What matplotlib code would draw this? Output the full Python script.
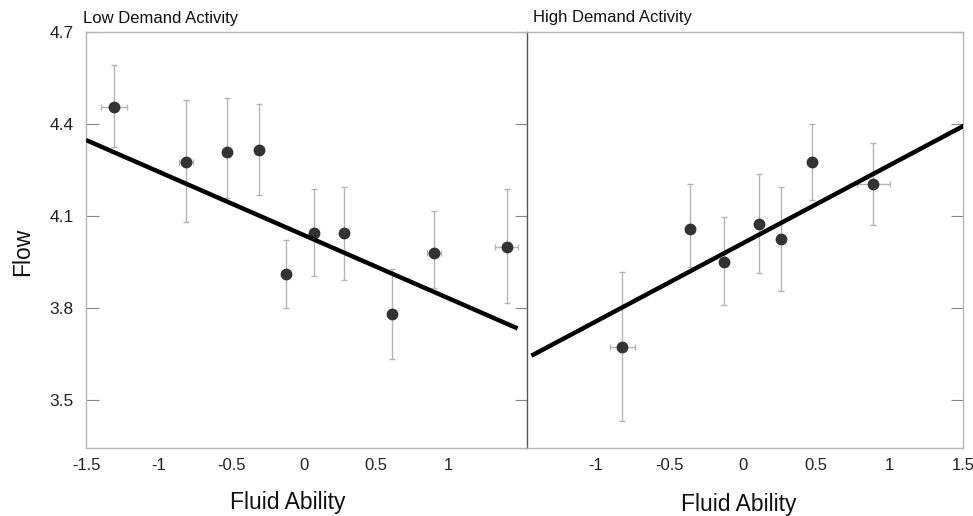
#!/usr/bin/env python3
"""Flow vs fluid ability, low and high demand activity panels"""
import numpy as np
import matplotlib
matplotlib.use('Agg')
import matplotlib.pyplot as plt

plt.rcParams['font.family'] = ['Liberation Sans', 'DejaVu Sans']

# low demand activity: binned means with error bars
low_x = [-1.31, -0.81, -0.53, -0.31, -0.12, 0.07, 0.28, 0.61, 0.90, 1.40]
low_y = [4.454, 4.277, 4.310, 4.316, 3.910, 4.046, 4.046, 3.780, 3.978, 4.000]
low_ytop = [4.592, 4.478, 4.484, 4.465, 4.022, 4.187, 4.196, 3.927, 4.116, 4.187]
low_ybot = [4.326, 4.080, 4.158, 4.170, 3.799, 3.905, 3.891, 3.634, 3.864, 3.815]
low_xerr = [0.09, 0.046, 0.0, 0.0, 0.0, 0.0, 0.0, 0.0, 0.05, 0.08]
low_fit = (4.038, -0.2065)     # intercept, slope
low_fit_range = (-1.5, 1.475)

# high demand activity
high_x = [-0.82, -0.36, -0.13, 0.11, 0.26, 0.47, 0.89]
high_y = [3.674, 4.058, 3.951, 4.073, 4.025, 4.275, 4.205]
high_ytop = [3.918, 4.203, 4.098, 4.236, 4.193, 4.400, 4.339]
high_ybot = [3.432, 3.935, 3.810, 3.913, 3.857, 4.152, 4.071]
high_xerr = [0.086, 0.035, 0.0, 0.0, 0.0, 0.0, 0.11]
high_fit = (4.011, 0.2546)
high_fit_range = (-1.44, 1.525)

y_ticks = [3.5, 3.8, 4.1, 4.4, 4.7]
low_xticks = [-1.5, -1, -0.5, 0, 0.5, 1]
high_xticks = [-1, -0.5, 0, 0.5, 1, 1.5]

W, H = 973, 516
fig = plt.figure(figsize=(W / 100, H / 100), dpi=100)

def px(x0, y0, x1, y1):
    return [x0 / W, 1 - y1 / H, (x1 - x0) / W, (y1 - y0) / H]

ax1 = fig.add_axes(px(86, 32, 527, 448))
ax2 = fig.add_axes(px(527, 32, 963, 448))

def draw_panel(ax, x, y, ytop, ybot, xerr, fit, fit_range, xlim, xticks):
    x = np.array(x)
    y = np.array(y)
    yerr = [y - np.array(ybot), np.array(ytop) - y]
    ax.errorbar(x, y, yerr=yerr, xerr=xerr, fmt='none', ecolor='#b5b5b5',
                elinewidth=1.0, capsize=2.2, capthick=1.0, zorder=2)
    ax.plot(x, y, 'o', color='#333333', markersize=7.5, zorder=3)
    fx = np.array(fit_range)
    ax.plot(fx, fit[0] + fit[1] * fx, color='black', lw=3.2,
            solid_capstyle='butt', zorder=4)
    ax.set_xlim(*xlim)
    ax.set_ylim(3.3435, 4.7)
    ax.set_xticks(xticks)
    ax.set_xticklabels([('%g' % t) for t in xticks])
    ax.set_yticks(y_ticks)
    ax.tick_params(axis='x', length=0, pad=7, labelsize=12, labelcolor='#222222')
    ax.tick_params(axis='y', direction='in', length=9, width=0.8, color='#888888',
                   pad=9, labelsize=12.5, labelcolor='#222222',
                   left=True, right=True)
    for s in ax.spines.values():
        s.set_color('#b5b5b5')
        s.set_linewidth(1.0)

draw_panel(ax1, low_x, low_y, low_ytop, low_ybot, low_xerr, low_fit,
           low_fit_range, (-1.5, 1.54), low_xticks)
draw_panel(ax2, high_x, high_y, high_ytop, high_ybot, high_xerr, high_fit,
           high_fit_range, (-1.47, 1.5), high_xticks)

ax1.set_yticklabels(['%g' % t for t in y_ticks])
# the divider between the panels is darker than the frame
ax1.spines['right'].set_color('#555555')
ax1.spines['right'].set_zorder(10)
ax2.patch.set_visible(False)
ax2.spines['left'].set_visible(False)
ax2.tick_params(axis='y', left=False, labelleft=False)

fig.text(83 / W, 1 - 23 / H, 'Low Demand Activity', fontsize=12, va='baseline',
         ha='left', color='#111111')
fig.text(533 / W, 1 - 22 / H, 'High Demand Activity', fontsize=12, va='baseline',
         ha='left', color='#111111')
fig.text(288 / W, 1 - 503 / H, 'Fluid Ability', fontsize=16.5, ha='center',
         va='center', color='#111111')
fig.text(739 / W, 1 - 505 / H, 'Fluid Ability', fontsize=16.5, ha='center',
         va='center', color='#111111')
fig.text(23 / W, 1 - 252 / H, 'Flow', fontsize=16.5, rotation=90, ha='center',
         va='center', color='#111111')

fig.savefig('out.png', dpi=100)
